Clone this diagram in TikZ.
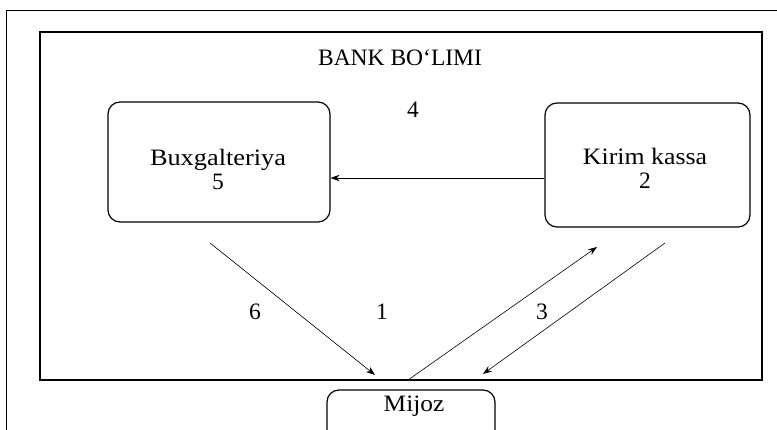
\documentclass[tikz,border=0pt]{standalone}
\usepackage{fontspec}
\setmainfont{Liberation Serif}
\usetikzlibrary{arrows.meta}
\tikzset{
  box/.style={draw, line width=1.2pt, rounded corners=12pt, inner sep=0pt},
  lbl/.style={font=\fontsize{23.5}{27}\selectfont, inner sep=0pt, align=center},
  arr/.style={line width=0.6pt, -{Stealth[length=9pt,width=6.5pt]}},
}
\begin{document}
\begin{tikzpicture}[x=1pt,y=1pt]
\useasboundingbox (0,0) rectangle (777,429);
\clip (0,0) rectangle (777,429);
% outer thin frame
\draw[line width=0.6pt] (6,-10) rectangle (800,419);
% inner thick frame
\draw[line width=2pt] (40,49) rectangle (762,397);
\node[lbl] (title) at (400,371) {BANK BO‘LIMI};
\node[lbl] (four) at (413,319) {4};
% boxes
\node[box, minimum width=222pt, minimum height=120pt] (bux) at (219,267) {};
\node[lbl] (buxt) at (218,260) {\scalebox{1.12}[1]{Buxgalteriya}\\[-3pt]5};
\node[box, minimum width=205pt, minimum height=124pt] (kir) at (647.5,264) {};
\node[lbl] (kirt) at (645,261) {\scalebox{1.1}[1]{Kirim kassa}\\[-3pt]2};
\draw[box] (327,-20) rectangle (495,39);
\node[lbl] (mijoz) at (414,23) {\scalebox{1.08}[1]{Mijoz}};
% connectors
\draw[arr] (kir.west |- 0,251) -- (bux.east |- 0,251);
\coordinate (a6s) at (210,186);
\coordinate (a6e) at (375,54);
\draw[arr] (a6s) -- (a6e);
\coordinate (a1s) at (408,49);
\coordinate (a1e) at (597,182);
\draw[arr] (a1s) -- (a1e);
\coordinate (a3s) at (665,186);
\coordinate (a3e) at (483,55);
\draw[arr] (a3s) -- (a3e);
\node[lbl] (six) at (255,117) {6};
\node[lbl] (one) at (382,117) {1};
\node[lbl] (three) at (542,117) {3};
\end{tikzpicture}
\end{document}
